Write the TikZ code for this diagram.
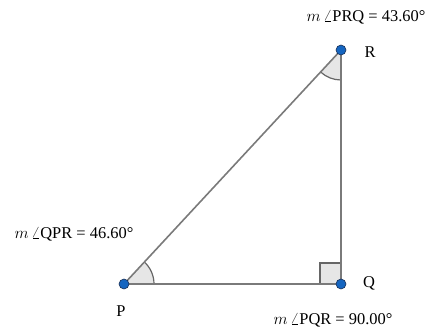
\documentclass[tikz,border=0pt]{standalone}
\usepackage{fix-cm}
\usepackage{fontspec}
\setmainfont{Liberation Serif}
\usetikzlibrary{angles,calc}
\definecolor{edgegray}{HTML}{7A7A7A}
\definecolor{arcgray}{HTML}{666666}
\definecolor{fillgray}{HTML}{E6E6E6}
\definecolor{dotblue}{HTML}{1565C0}
\definecolor{dotedge}{HTML}{1A2F55}
\begin{document}
\begin{tikzpicture}[x=1bp,y=1bp,
  side/.style={draw=edgegray,line width=1.6bp},
  angmark/.style={draw=arcgray,fill=fillgray,line width=1.2bp,angle radius=30bp},
  vdot/.style={circle,fill=dotblue,draw=dotedge,line width=0.6bp,minimum size=10bp,inner sep=0pt},
  lbl/.style={font=\fontsize{16.5}{19}\selectfont,inner sep=0pt}]
\useasboundingbox (0,0) rectangle (430,335);
\coordinate (P) at (124,51);
\coordinate (Q) at (341,51);
\coordinate (R) at (341,285);
\pic[angmark] {angle=Q--P--R};
\pic[angmark] {angle=P--R--Q};
\path[draw=none,fill=fillgray] ($(Q)+(-20.4,0.8)$) rectangle ($(Q)+(-0.8,20.4)$);
\draw[draw=arcgray,line width=1.2bp] ($(Q)+(-21,0)$) -- ($(Q)+(-21,21)$) -- ($(Q)+(0,21)$);
\draw[side] (P) -- (Q) -- (R) -- cycle;
\node[vdot] (p) at (P) {};
\node[vdot] (q) at (Q) {};
\node[vdot] (r) at (R) {};
\node[lbl] (lp) at (121,24) {P};
\node[lbl] (lq) at (369,52) {Q};
\node[lbl] (lr) at (370,283) {R};
\node[lbl] (ar) at (366,318) {$m\,\angle$PRQ = 43.60°};
\node[lbl] (ap) at (74,101) {$m\,\angle$QPR = 46.60°};
\node[lbl] (aq) at (333,15) {$m\,\angle$PQR = 90.00°};
\end{tikzpicture}
\end{document}
